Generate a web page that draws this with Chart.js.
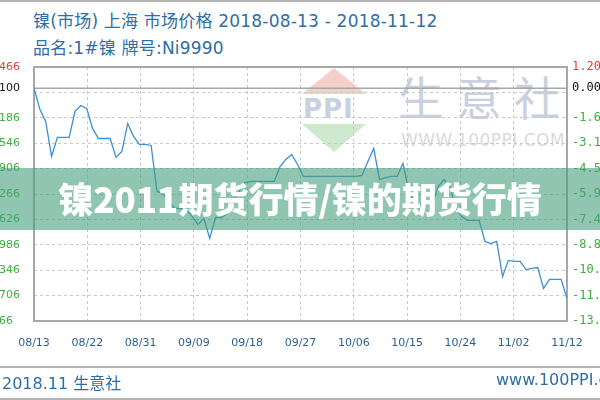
<!DOCTYPE html>
<html>
<head>
<meta charset="utf-8">
<script src="https://cdn.jsdelivr.net/npm/chart.js@4/dist/chart.umd.min.js"></script>
<style>
  html, body { margin:0; padding:0; width:600px; height:400px; overflow:hidden; background:#fff; position:relative; }
  .hdr { position:absolute; left:33px; font-family:"DejaVu Sans","Noto Sans CJK SC",sans-serif; font-size:17px; letter-spacing:0.2px; color:#2f6ea5; white-space:nowrap; }
  #wrap { position:absolute; left:-22px; top:0; width:652px; height:400px; }
  .wm { position:absolute; white-space:nowrap; font-family:"Noto Sans CJK SC",sans-serif; }
  #banner { position:absolute; left:0; top:168px; width:600px; height:62px; background:rgba(70,160,125,0.6);
            color:#fff; font-family:"Noto Sans CJK SC",sans-serif; font-weight:900; font-size:35px; line-height:60px; text-align:center; }
  .foot { position:absolute; top:370px; font-family:"DejaVu Sans","Noto Sans CJK SC",sans-serif; font-size:16px; color:#2f6ea5; white-space:nowrap; }
  .hl { position:absolute; left:0; width:600px; height:2px; background:#b4b4b4; }
</style>
</head>
<body>
<div class="hl" style="top:0"></div>
<div class="hdr" style="top:7px">镍(市场) 上海 市场价格 2018-08-13 - 2018-11-12</div>
<div class="hdr" style="top:34px">品名:1#镍 牌号:Ni9990</div>

<!-- watermark -->
<div class="wm" style="left:302px;top:68px;width:0;height:0;border-left:32px solid transparent;border-right:32px solid transparent;border-bottom:26px solid #f6cfca;"></div>
<div class="wm" style="left:303px;top:94px;font-family:'DejaVu Sans';font-weight:bold;font-size:26px;color:#c9d0e2;letter-spacing:1px;">PPI</div>
<div class="wm" style="left:302px;top:124px;width:0;height:0;border-left:32px solid transparent;border-right:32px solid transparent;border-top:28px solid #cfe9cf;"></div>
<div class="wm" style="left:398px;top:62px;font-size:46px;color:#c9d0e0;letter-spacing:12px;">生意社</div>
<div class="wm" style="left:401px;top:130px;font-family:'DejaVu Sans';font-size:17px;color:#dadada;letter-spacing:0.5px;">WWW.100PPI.COM</div>

<div id="wrap"><canvas id="c" width="652" height="400"></canvas></div>

<div id="banner">镍2011期货行情/镍的期货行情</div>

<div class="hl" style="top:366px"></div>
<div class="foot" style="left:2px">2018.11 生意社</div>
<div class="foot" style="left:496px">www.100PPI.com</div>
<div class="hl" style="top:398px"></div>

<script>
// Daily spot prices (yuan/ton), 2018-08-13 .. 2018-11-12
const prices = [
  114100,112730,111950,109690,110920,110920,110920,112600,112980,112790,
  111500,110850,110850,110850,109630,110010,111820,110980,110470,110470,
  110400,107430,107300,106780,106330,106330,106270,105820,105300,105690,
  104400,105750,105750,106010,106780,107430,108010,108080,108080,108080,
  108080,108080,109040,109500,109820,109170,108400,108400,108400,108400,
  108400,108400,108400,108400,108400,108400,108460,109370,110210,108200,
  108330,108400,108400,109240,107430,106720,106590,106590,106590,107750,
  108200,107750,106330,105820,105560,105560,105560,104200,104070,104200,
  101940,102980,102910,102910,102390,102460,102520,101170,101750,101750,
  101750,100520
];
const basePrice = 114100;
const priceTicks = [115466,114100,113826,112186,110546,108906,107266,105626,103986,102346,100706,99066];
const pctLabels  = ['1.20','0.00','','-1.68','-3.11','-4.55','-5.99','-7.43','-8.86','-10.30','-11.74','-13.18'];
const dateLabels = ['08/13','08/22','08/31','09/09','09/18','09/27','10/06','10/15','10/24','11/02','11/12'];

const points = prices.map((v,i)=>({x:i, y:v}));
const lastDay = prices.length - 1;
const GREEN = '#3fae3f', RED = '#e0403a';

function labelColor(v){
  if (v === priceTicks[0]) return RED;
  if (v === basePrice) return '#111';
  return GREEN;
}

const frame = {
  id:'frame',
  beforeDatasetsDraw(chart){
    const {ctx, chartArea:a, scales} = chart;
    ctx.save();
    const yb = scales.y.getPixelForValue(basePrice);
    ctx.strokeStyle = '#a8a8a8'; ctx.lineWidth = 1.5;
    ctx.beginPath(); ctx.moveTo(a.left, yb); ctx.lineTo(a.right, yb); ctx.stroke();
    ctx.strokeStyle = '#a8a8a8'; ctx.lineWidth = 2;
    ctx.strokeRect(a.left, a.top, a.right-a.left, a.bottom-a.top);
    ctx.restore();
  }
};

new Chart(document.getElementById('c'), {
  type:'line',
  data:{ datasets:[{ data:points, borderColor:'#3c8fd2', borderWidth:1.3, pointRadius:0, tension:0, fill:false, yAxisID:'y' }] },
  options:{
    responsive:false, animation:false,
    layout:{ padding:{ top:67, bottom:49, left:0, right:0 } },
    plugins:{ legend:{display:false}, tooltip:{enabled:false} },
    scales:{
      x:{
        type:'linear', min:0, max:lastDay,
        afterBuildTicks(s){ s.ticks = dateLabels.map((_,i)=>({value: i*lastDay/(dateLabels.length-1)})); },
        afterFit(s){ s.height = 30; },
        border:{display:false, dash:[3,3]},
        grid:{ color:'#c8c8c8', drawTicks:false, lineWidth:1 },
        ticks:{ autoSkip:false, maxRotation:0, padding:16, color:'#2a5f95',
                font:{family:'DejaVu Sans', size:11},
                callback:(v,i)=>dateLabels[i] }
      },
      y:{
        position:'left', min:99066, max:115466,
        afterBuildTicks(s){ s.ticks = priceTicks.slice().sort((a,b)=>a-b).map(v=>({value:v})); },
        afterFit(s){ s.width = 56; },
        border:{display:false, dash:[3,3]},
        grid:{ drawTicks:false, color:c => (c.tick && (c.tick.value===basePrice || c.tick.value===priceTicks[0] || c.tick.value===priceTicks[priceTicks.length-1])) ? 'rgba(0,0,0,0)' : '#c8c8c8' },
        ticks:{ autoSkip:false, crossAlign:'far', padding:0,
                font:{family:'DejaVu Sans', size:11},
                color:c => labelColor(c.tick.value),
                callback:v => v===113826 ? '' : String(v) }
      },
      y2:{
        position:'right', min:99066, max:115466,
        afterBuildTicks(s){ s.ticks = priceTicks.slice().sort((a,b)=>a-b).map(v=>({value:v})); },
        afterFit(s){ s.width = 63; },
        border:{display:false},
        grid:{ display:false, drawTicks:false },
        ticks:{ autoSkip:false, padding:5,
                font:{family:'DejaVu Sans Mono', size:12},
                color:c => labelColor(c.tick.value),
                callback:v => pctLabels[priceTicks.indexOf(v)] }
      }
    }
  },
  plugins:[frame]
});
</script>
</body>
</html>
